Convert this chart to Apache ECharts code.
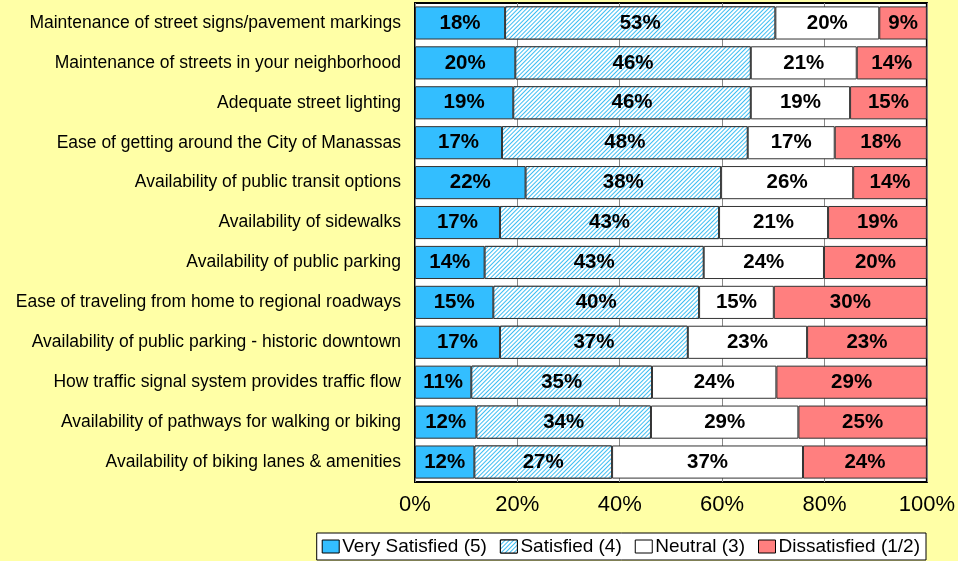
<!DOCTYPE html>
<html>
<head>
<meta charset="utf-8">
<script src="https://cdn.jsdelivr.net/npm/echarts@6/dist/echarts.min.js"></script>
<style>
html, body { margin: 0; padding: 0; background: #FFFFA6; }
#bar-chart { width: 958px; height: 561px; }
</style>
</head>
<body>
<div id="bar-chart"></div>
<script>
var categories = [
	'Maintenance of street signs/pavement markings',
	'Maintenance of streets in your neighborhood',
	'Adequate street lighting',
	'Ease of getting around the City of Manassas',
	'Availability of public transit options',
	'Availability of sidewalks',
	'Availability of public parking',
	'Ease of traveling from home to regional roadways',
	'Availability of public parking - historic downtown',
	'How traffic signal system provides traffic flow',
	'Availability of pathways for walking or biking',
	'Availability of biking lanes & amenities'
];
var verySatisfied = [17.6, 19.6, 19.2, 17.0, 21.6, 16.6, 13.6, 15.3, 16.6, 11.0, 12.0, 11.6];
var satisfied     = [52.8, 46.0, 46.4, 48.0, 38.2, 42.8, 42.8, 40.2, 36.7, 35.3, 34.1, 26.9];
var neutral       = [20.3, 20.7, 19.4, 17.0, 25.8, 21.3, 23.5, 14.6, 23.3, 24.3, 28.8, 37.3];
var dissatisfied  = [9.3, 13.7, 15.0, 18.0, 14.4, 19.3, 20.1, 29.9, 23.4, 29.4, 25.1, 24.2];
var xTicks = [0, 20, 40, 60, 80, 100];

var font = 'Arial, "Liberation Sans", sans-serif';
var barLabel = {
	show: true,
	position: 'inside',
	color: '#000',
	fontWeight: 'bold',
	fontSize: 20.5,
	fontFamily: font,
	formatter: function(p){ return Math.round(p.value) + '%'; }
};

function makeSeries(name, data, color, decal){
	var s = {
		name: name,
		type: 'bar',
		stack: 'total',
		barCategoryGap: '17%',
		data: data,
		itemStyle: { color: color, borderColor: '#333', borderWidth: 1 },
		label: barLabel
	};
	if (decal) s.itemStyle.decal = decal;
	return s;
}

//斜线填充
var hatchDecal = {
	symbol: 'rect',
	symbolSize: 1,
	color: '#3DBDF2',
	backgroundColor: '#ffffff',
	dashArrayX: [1, 0],
	dashArrayY: [1, 2],
	rotation: -Math.PI / 4
};

var chart = echarts.init(document.getElementById('bar-chart'));
var option = {
	backgroundColor: '#FFFFA6',
	animation: false,
	grid: {
		left: 415, right: 31, top: 3, bottom: 79,
		show: true, backgroundColor: '#fff', borderColor: '#000', borderWidth: 2
	},
	legend: {
		data: ['Very Satisfied (5)', 'Satisfied (4)', 'Neutral (3)', 'Dissatisfied (1/2)'],
		right: 32, bottom: 1,
		backgroundColor: '#fff', borderColor: '#000', borderWidth: 1,
		padding: [4, 6, 4, 5],
		itemWidth: 17, itemHeight: 13, itemGap: 13,
		icon: 'rect',
		itemStyle: { borderColor: '#000', borderWidth: 1 },
		textStyle: { fontSize: 19, fontFamily: font, color: '#000', padding: [0, 0, 0, -2] }
	},
	xAxis: {
		type: 'value',
		min: xTicks[0], max: xTicks[xTicks.length - 1], interval: 20,
		axisLine: { show: false },
		axisTick: { show: false },
		splitLine: { show: true, lineStyle: { color: '#888', width: 1 } },
		axisLabel: {
			color: '#000', fontSize: 22, fontFamily: font, margin: 12,
			formatter: function(v){ return v + '%'; }
		}
	},
	yAxis: {
		type: 'category',
		inverse: true,
		data: categories,
		axisLine: { show: false },
		axisTick: { show: false },
		axisLabel: { color: '#000', fontSize: 17.5, fontFamily: font, margin: 14 }
	},
	series: [
		makeSeries('Very Satisfied (5)', verySatisfied, '#33BEFF'),
		makeSeries('Satisfied (4)', satisfied, '#ffffff', hatchDecal),
		makeSeries('Neutral (3)', neutral, '#ffffff'),
		makeSeries('Dissatisfied (1/2)', dissatisfied, '#FF7F7F')
	]
};
chart.setOption(option);
</script>
</body>
</html>
